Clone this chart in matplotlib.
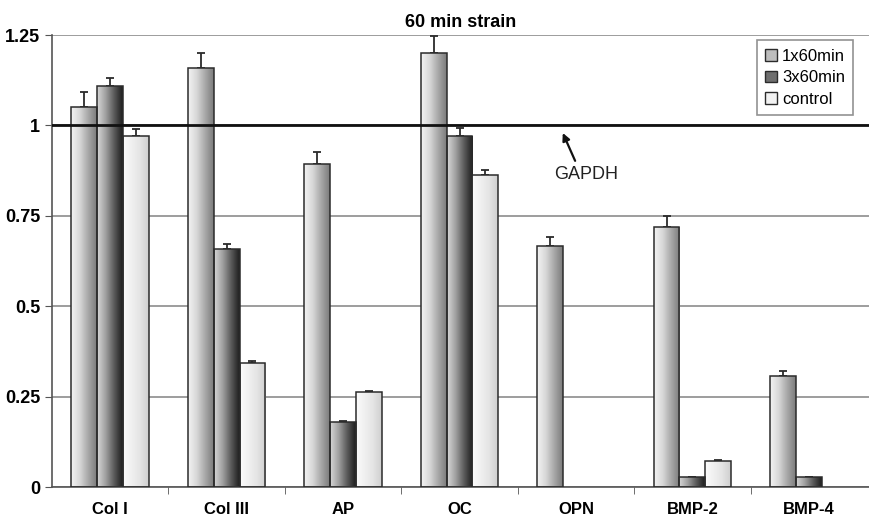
import numpy as np
import matplotlib
matplotlib.use("Agg")
import matplotlib.pyplot as plt
from matplotlib.colors import LinearSegmentedColormap
from matplotlib.patches import Patch

plt.rcParams['font.family'] = ['Liberation Sans', 'DejaVu Sans']

# data
genes = ["Col I", "Col III", "AP", "OC", "OPN", "BMP-2", "BMP-4"]
series = ["1x60min", "3x60min", "control"]
one_x60 = [1.052, 1.160, 0.894, 1.200, 0.667, 0.720, 0.307]
one_x60_err = [0.040, 0.040, 0.032, 0.046, 0.023, 0.030, 0.013]
three_x60 = [1.109, 0.659, 0.180, 0.972, 0.0, 0.028, 0.028]
three_x60_err = [0.022, 0.014, 0.002, 0.021, 0.0, 0.0, 0.0]
control = [0.972, 0.344, 0.262, 0.864, 0.0, 0.072, 0.0]
control_err = [0.018, 0.005, 0.004, 0.014, 0.0, 0.002, 0.0]

values = [one_x60, three_x60, control]
errors = [one_x60_err, three_x60_err, control_err]

# gradient colormaps (left -> right of each bar)
cmaps = [
    LinearSegmentedColormap.from_list("g1", ["#f2f2f2", "#d8d8d8", "#a8a8a8", "#7c7c7c"]),
    LinearSegmentedColormap.from_list("g2", ["#d6d6d6", "#a0a0a0", "#5a5a5a", "#1e1e1e"]),
    LinearSegmentedColormap.from_list("g3", ["#fbfbfb", "#f0f0f0", "#e4e4e4", "#cfcfcf"]),
]
legend_face = ["#bdbdbd", "#6e6e6e", "#f2f2f2"]

fig = plt.figure(figsize=(8.69, 5.25), dpi=100)
ax = fig.add_axes([52 / 869, 38 / 525, 817 / 869, 452 / 525])

n = len(genes)
x = np.arange(n)
width = 0.222
grad = np.linspace(0, 1, 64).reshape(1, -1)

for i in range(3):
    pos = x + (i - 1) * width
    bars = ax.bar(pos, values[i], width, color="none", edgecolor="#2b2b2b",
                  linewidth=1.1, zorder=3, label=series[i])
    for b in bars:
        if b.get_height() <= 0:
            b.set_linewidth(0)
            continue
        im = ax.imshow(grad, extent=(b.get_x(), b.get_x() + b.get_width(), 0, b.get_height()),
                       aspect="auto", cmap=cmaps[i], zorder=2.5, origin="lower")
        im.set_clip_path(b)
    has = [k for k in range(n) if values[i][k] > 0]
    ax.errorbar(pos[has], np.array(values[i])[has], yerr=[np.zeros(len(has)), np.array(errors[i])[has]],
                fmt="none", ecolor="#2b2b2b", elinewidth=1.3, capsize=3, capthick=1.3, zorder=2)

# reference line at 1 (GAPDH)
ax.axhline(1.0, color="#111111", linewidth=2, zorder=4)
ax.annotate("", xy=(3.887, 0.979), xytext=(3.993, 0.902),
            arrowprops=dict(arrowstyle="-|>", color="#111111", lw=1.6, mutation_scale=11,
                            shrinkA=0, shrinkB=0))
ax.text(4.088, 0.863, "GAPDH", fontsize=13, ha="center", va="center", color="#222222")

ax.set_xlim(-0.5, n - 0.5 + 0.017)
ax.set_ylim(0, 1.25)
ax.set_yticks([0, 0.25, 0.5, 0.75, 1, 1.25])
ax.set_yticklabels(["0", "0.25", "0.5", "0.75", "1", "1.25"], fontsize=13, fontweight="bold")
ax.yaxis.grid(True, color="#8c8c8c", linewidth=1.2, zorder=0)
ax.set_axisbelow(True)

ax.set_xticks(x)
ax.set_xticklabels(genes, fontsize=12, fontweight="bold")
ax.tick_params(axis="x", length=0, pad=11)
ax.set_xticks(np.arange(0.5, n - 0.5, 1), minor=True)
ax.tick_params(axis="x", which="minor", length=5, color="#555555", direction="out")
ax.tick_params(axis="y", length=5, color="#555555", direction="out")

for s in ["top", "right"]:
    ax.spines[s].set_visible(False)
ax.spines["left"].set_color("#555555")
ax.spines["bottom"].set_color("#555555")
ax.spines["left"].set_linewidth(1.2)
ax.spines["bottom"].set_linewidth(1.2)

ax.set_title("60 min strain", fontsize=13, fontweight="bold", pad=6)

handles = [Patch(facecolor=legend_face[i], edgecolor="#2b2b2b") for i in range(3)]
leg = ax.legend(handles, series, loc="upper right", bbox_to_anchor=(0.981, 0.988),
                borderaxespad=0, fontsize=12, frameon=True, fancybox=False, edgecolor="#777777",
                handlelength=0.7, handleheight=0.7, handletextpad=0.3, labelspacing=0.4,
                borderpad=0.5)
leg.get_frame().set_linewidth(1.2)
leg.set_zorder(5)

fig.savefig("out.png", dpi=100)
